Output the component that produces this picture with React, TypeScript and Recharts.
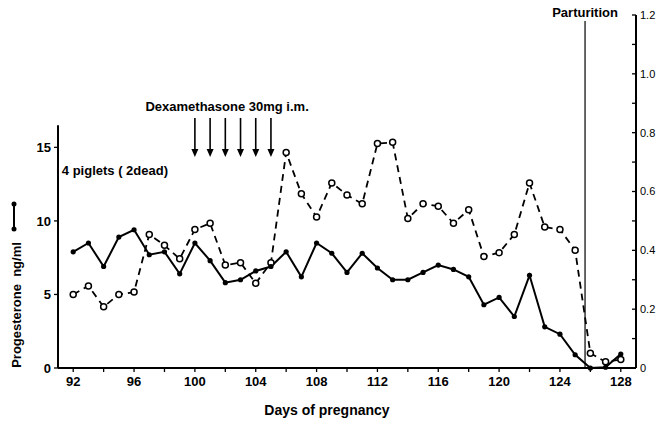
import { ComposedChart, Line, XAxis, YAxis, ReferenceLine, ReferenceDot } from "recharts";

const days = [
  92, 93, 94, 95, 96, 97, 98, 99, 100, 101, 102, 103, 104, 105, 106, 107, 108, 109, 110,
  111, 112, 113, 114, 115, 116, 117, 118, 119, 120, 121, 122, 123, 124, 125, 126, 127, 128,
];

// progesterone ng/ml (left axis, solid line, filled dots)
const progesterone = [
  7.9, 8.5, 6.9, 8.9, 9.4, 7.7, 7.9, 6.4, 8.5, 7.3, 5.8, 6.0, 6.6, 6.9, 7.9, 6.2, 8.5, 7.8, 6.5,
  7.8, 6.8, 6.0, 6.0, 6.5, 7.0, 6.7, 6.2, 4.3, 4.8, 3.5, 6.3, 2.8, 2.3, 0.9, 0.0, 0.05, 0.95,
];

// second hormone (right axis, dashed line, open circles)
const secondary = [
  0.25, 0.279, 0.208, 0.25, 0.258, 0.454, 0.417, 0.371, 0.471, 0.492, 0.35, 0.358, 0.288, 0.358,
  0.733, 0.592, 0.513, 0.629, 0.588, 0.558, 0.763, 0.767, 0.508, 0.558, 0.55, 0.492, 0.538,
  0.379, 0.392, 0.454, 0.629, 0.479, 0.471, 0.4, 0.05, 0.021, 0.029,
];

const xTicks = [92, 94, 96, 98, 100, 102, 104, 106, 108, 110, 112, 114, 116, 118, 120, 122, 124, 126, 128];
const leftTicks = [0, 5, 10, 15];
const rightTicks = [0, 0.1, 0.2, 0.3, 0.4, 0.5, 0.6, 0.7, 0.8, 0.9, 1.0, 1.1, 1.2];
const injectionDays = [100, 101, 102, 103, 104, 105];
const partusDay = 125.65;

const data = days.map((day, i) => ({ day, progesterone: progesterone[i], secondary: secondary[i] }));

const INK = "#000";
const FONT = "'Liberation Sans', Arial, sans-serif";

const xTickLabel = (v: number) => ((v - 92) % 4 === 0 ? String(v) : "");

function RightTick(props: any) {
  const { x, y, payload } = props;
  const v = Math.round(payload.value * 10);
  const major = v % 2 === 0;
  const label = v === 0 ? "0" : (v / 10).toFixed(1);
  return (
    <g>
      <line x1={x - 4} y1={y} x2={x} y2={y} stroke={INK} strokeWidth={1.3} />
      {major && (
        <text x={x + 4} y={y} dy="0.35em" fontSize={11} fontFamily={FONT} fill={INK}>
          {label}
        </text>
      )}
    </g>
  );
}

function LeftTitle() {
  return (
    <g>
      <line x1={14} y1={204} x2={14} y2={229} stroke={INK} strokeWidth={2} />
      <circle cx={14} cy={204} r={2.5} fill={INK} />
      <circle cx={14} cy={229} r={2.5} fill={INK} />
      <text
        x={16}
        y={305}
        transform="rotate(-90 16 305)"
        textAnchor="middle"
        dominantBaseline="central"
        fontSize={13}
        fontFamily={FONT}
        fontWeight="bold"
        fill={INK}
      >
        Progesterone&#160;&#160;ng/ml
      </text>
    </g>
  );
}

function BottomTitle() {
  return (
    <text x={327} y={410} textAnchor="middle" dominantBaseline="central" fontSize={14} fontFamily={FONT} fontWeight="bold" fill={INK}>
      Days of pregnancy
    </text>
  );
}

const noteText = (text: string, anchor: "start" | "middle", size = 13) => (p: any) => (
  <text x={p.cx} y={p.cy} textAnchor={anchor} dominantBaseline="central" fontSize={size} fontFamily={FONT} fontWeight="bold" fill={INK}>
    {text}
  </text>
);

const arrowHead = (p: any) => (
  <path d={`M${p.cx - 3.5},${p.cy - 8} L${p.cx + 3.5},${p.cy - 8} L${p.cx},${p.cy} Z`} fill={INK} />
);

const openDot = (p: any) => (
  <circle key={`o${p.index}`} cx={p.cx} cy={p.cy} r={3} fill="#fff" stroke={INK} strokeWidth={1.5} />
);

const filledDot = (p: any) => <circle key={`f${p.index}`} cx={p.cx} cy={p.cy} r={2.6} fill={INK} />;

export default function App() {
  return (
    <div style={{ width: 658, height: 425, background: "#fff" }}>
      <style>{"body{margin:0;overflow:hidden}"}</style>
      <ComposedChart width={658} height={425} data={data} margin={{ top: 15, right: 0, bottom: 0, left: 0 }}>
        <XAxis
          dataKey="day"
          type="number"
          domain={[91, 129]}
          ticks={xTicks}
          tickFormatter={xTickLabel}
          height={57}
          stroke={INK}
          axisLine={{ stroke: INK, strokeWidth: 2 }}
          tickLine={{ stroke: INK, strokeWidth: 1.3 }}
          tickSize={4}
          tickMargin={5}
          tick={{ fill: INK, fontSize: 13, fontFamily: FONT, fontWeight: "bold" }}
          interval={0}
          label={<BottomTitle />}
        />
        <YAxis
          yAxisId="left"
          domain={[0, 24]}
          ticks={leftTicks}
          width={58}
          axisLine={false}
          tickLine={{ stroke: INK, strokeWidth: 1.3 }}
          tickSize={4}
          tickMargin={3}
          tick={{ fill: INK, fontSize: 13, fontFamily: FONT, fontWeight: "bold" }}
          interval={0}
          label={<LeftTitle />}
        />
        <YAxis
          yAxisId="right"
          orientation="right"
          domain={[0, 1.2]}
          ticks={rightTicks}
          width={22}
          axisLine={{ stroke: INK, strokeWidth: 2 }}
          tickLine={false}
          tickSize={0}
          tickMargin={0}
          tick={<RightTick />}
          interval={0}
        />
        <ReferenceLine
          yAxisId="left"
          segment={[{ x: 91, y: 0 }, { x: 91, y: 16.5 }]}
          stroke={INK}
          strokeWidth={2}
          ifOverflow="visible"
        />
        <ReferenceLine
          yAxisId="left"
          segment={[{ x: partusDay, y: 0 }, { x: partusDay, y: 23.6 }]}
          stroke={INK}
          strokeWidth={1.2}
          ifOverflow="visible"
        />
        {injectionDays.map((d) => (
          <ReferenceLine
            key={`a${d}`}
            yAxisId="left"
            segment={[{ x: d, y: 17.0 }, { x: d, y: 14.8 }]}
            stroke={INK}
            strokeWidth={1.6}
            ifOverflow="visible"
          />
        ))}
        {injectionDays.map((d) => (
          <ReferenceDot key={`h${d}`} yAxisId="left" x={d} y={14.34} r={0} shape={arrowHead} ifOverflow="visible" />
        ))}
        <ReferenceDot yAxisId="left" x={96.75} y={17.75} r={0} shape={noteText("Dexamethasone  30mg  i.m.", "start")} ifOverflow="visible" />
        <ReferenceDot yAxisId="left" x={91.25} y={13.45} r={0} shape={noteText("4 piglets ( 2dead)", "start")} ifOverflow="visible" />
        <ReferenceDot yAxisId="left" x={partusDay} y={24.2} r={0} shape={noteText("Parturition", "middle")} ifOverflow="visible" />
        <Line
          yAxisId="right"
          dataKey="secondary"
          type="linear"
          stroke={INK}
          strokeWidth={1.8}
          strokeDasharray="7 5"
          dot={openDot}
          isAnimationActive={false}
        />
        <Line
          yAxisId="left"
          dataKey="progesterone"
          type="linear"
          stroke={INK}
          strokeWidth={2}
          dot={filledDot}
          isAnimationActive={false}
        />
      </ComposedChart>
    </div>
  );
}
